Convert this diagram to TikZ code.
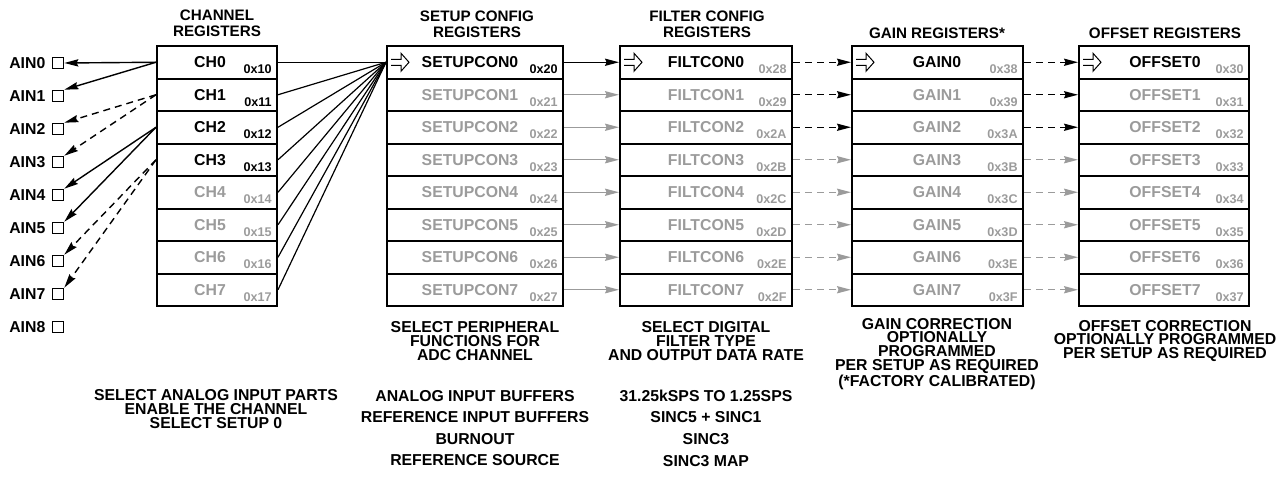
\documentclass[tikz,border=0pt]{standalone}
\usepackage{fontspec}
\setmainfont{Liberation Sans}
\usetikzlibrary{arrows.meta,calc}
\definecolor{regGray}{RGB}{155,155,155}

\begin{document}
\begin{tikzpicture}[
    x=0.5pt, y=-0.5pt,
    reg/.style={draw, line width=1pt, minimum height=16.25pt, inner sep=0pt},
    tag/.style={font=\fontsize{7.9}{8}\selectfont\bfseries, inner sep=0pt},
    hexa/.style={font=\fontsize{6.3}{7}\selectfont\bfseries, anchor=base east, inner sep=0pt},
    ttl/.style={font=\fontsize{7.6}{8}\selectfont\bfseries, align=center, inner sep=0pt},
    note/.style={font=\fontsize{7.9}{6.8}\selectfont\bfseries, align=center, inner sep=0pt},
    ainbox/.style={draw, line width=0.7pt, minimum size=5.6pt, inner sep=0pt},
    arr/.style={-{Stealth[length=7pt, width=3.6pt, inset=0.8pt]}, line width=0.7pt},
    dsh/.style={dash pattern=on 3.5pt off 2.5pt},
    hollow/.style={line width=0.5pt, line join=miter}
]
\useasboundingbox (0,0) rectangle (1282,477);

% register columns: id/name/centre/label x/width/first address/black names/black addresses
\foreach \id/\nm/\cx/\lx/\w/\base/\nb/\hb in {ch/CH/217/210/120/16/4/4, su/SETUPCON/475/470/176/32/1/1, fc/FILTCON/706/706/172/40/1/0, gn/GAIN/937.5/937/171/56/1/0, of/OFFSET/1164/1165/170/48/1/0}
  \foreach \i in {0,...,7} {
    \pgfmathsetmacro\ry{62.25+32.5*\i}
    \pgfmathparse{Hex(\base+\i)}\edef\hx{\pgfmathresult}
    \ifnum\i<\nb \colorlet{nmc}{black}\else \colorlet{nmc}{regGray}\fi
    \ifnum\i<\hb \colorlet{hxc}{black}\else \colorlet{hxc}{regGray}\fi
    \node[reg, minimum width=\w*0.5pt] (\id\i) at (\cx,\ry) {};
    \node[tag, text=nmc] (\id\i-t) at (\lx,\ry) {\nm\i};
    \node[hexa, text=hxc] (\id\i-h) at ($(\id\i.south east)+(-6,-6)$) {0x\hx};
  }

% open arrows on the first rows
\foreach \id in {su,fc,gn,of}
  \draw[hollow] ($(\id0.west)+(5,-3)$) -- ++(10,0) -- ++(0,-6) -- ++(8,9) -- ++(-8,9) -- ++(0,-6) -- ++(-10,0);

% analog inputs
\foreach \i in {0,...,8} {
  \node[ainbox] (a\i) at (58,{63+33*\i}) {};
  \node[tag, anchor=east] (a\i-t) at ($(a\i.west)+(-6,0)$) {AIN\i};
}

\draw[arr] (ch0.west) -- (a0.east);
\draw[arr] (ch0.west) -- (a1.north east);
\draw[arr, dsh] (ch1.west) -- (a2.north east);
\draw[arr, dsh] (ch1.west) -- (a3.north east);
\draw[arr] (ch2.west) -- (a4.north east);
\draw[arr] (ch2.west) -- (a5.north east);
\draw[arr, dsh] (ch3.west) -- (a6.north east);
\draw[arr, dsh] (ch3.west) -- (a7.north east);

\foreach \i in {0,...,7}
  \draw[line width=0.6pt] (ch\i.east) -- (su0.west);

\draw[arr] (su0.east) -- (fc0.west);
\foreach \i in {1,...,7}
  \draw[arr, regGray] (su\i.east) -- (fc\i.west);
\foreach \i in {0,1,2} {
  \draw[arr, dsh] (fc\i.east) -- (gn\i.west);
  \draw[arr, dsh] (gn\i.east) -- (of\i.west);
}
\foreach \i in {3,...,7} {
  \draw[arr, dsh, regGray] (fc\i.east) -- (gn\i.west);
  \draw[arr, dsh, regGray] (gn\i.east) -- (of\i.west);
}

% titles
\node[ttl] (t-ch) at (217,23) {CHANNEL\\REGISTERS};
\node[ttl] (t-su) at (477,24) {SETUP CONFIG\\REGISTERS};
\node[ttl] (t-fc) at (707,24) {FILTER CONFIG\\REGISTERS};
\node[ttl] (t-gn) at (937,33) {GAIN REGISTERS*};
\node[ttl] (t-of) at (1165,33) {OFFSET REGISTERS};

% notes
\node[note] (n-su) at (475,341) {SELECT PERIPHERAL\\FUNCTIONS FOR\\ADC CHANNEL};
\node[note] (n-fc) at (706,341) {SELECT DIGITAL\\FILTER TYPE\\AND OUTPUT DATA RATE};
\node[note] (n-gn) at (937,354) {GAIN CORRECTION\\OPTIONALLY\\PROGRAMMED\\PER SETUP AS REQUIRED\\(*FACTORY CALIBRATED)};
\node[note] (n-of) at (1165,341) {OFFSET CORRECTION\\OPTIONALLY PROGRAMMED\\PER SETUP AS REQUIRED};
\node[note] (n-ch) at (216,409) {SELECT ANALOG INPUT PARTS\\ENABLE THE CHANNEL\\SELECT SETUP 0};
\node[note, font=\fontsize{7.9}{10.8}\selectfont\bfseries] (n-buf) at (475,428) {ANALOG INPUT BUFFERS\\REFERENCE INPUT BUFFERS\\BURNOUT\\REFERENCE SOURCE};
\node[note, font=\fontsize{7.9}{10.8}\selectfont\bfseries] (n-flt) at (706,428) {31.25kSPS TO 1.25SPS\\SINC5 + SINC1\\SINC3\\SINC3 MAP};
\end{tikzpicture}
\end{document}
